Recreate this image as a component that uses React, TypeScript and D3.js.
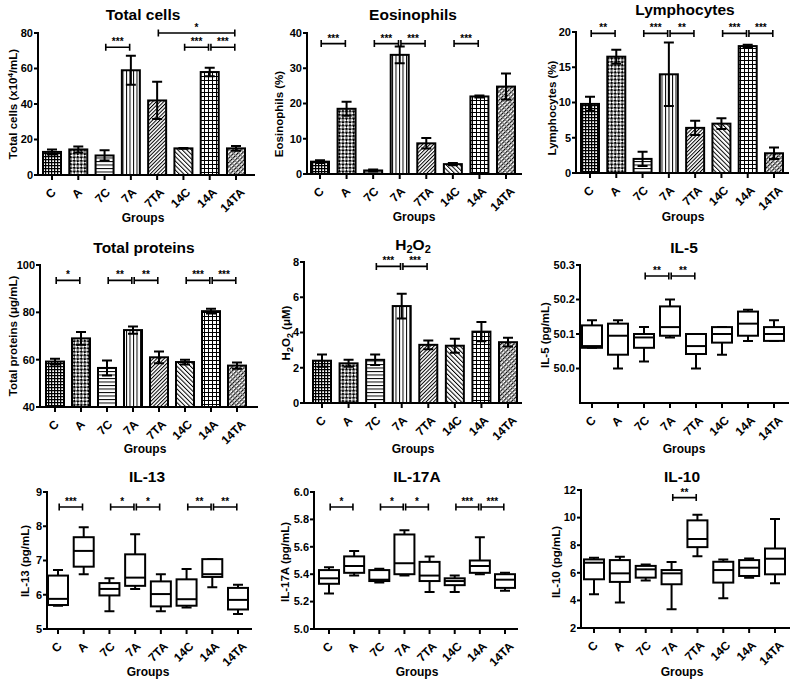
import React from "react";
import * as d3 from "d3";

const groups = ["C", "A", "7C", "7A", "7TA", "14C", "14A", "14TA"];

// Bar charts: mean and SEM
const totalCellsMean = [13, 14.4, 11, 59, 42, 15, 58, 15];
const totalCellsErr = [1.4, 1.7, 2.9, 8.2, 10.5, 0.2, 2.4, 1.3];
const totalCellsTicks = [0, 20, 40, 60, 80];

const eosMean = [3.5, 18.5, 1.0, 33.8, 8.7, 2.8, 22.0, 24.8];
const eosErr = [0.4, 2.0, 0.3, 2.4, 1.5, 0.3, 0.3, 3.7];
const eosTicks = [0, 10, 20, 30, 40];

const lymMean = [9.8, 16.5, 2.0, 14.0, 6.4, 7.0, 18.0, 2.8];
const lymErr = [1.0, 1.0, 1.0, 4.5, 1.0, 0.75, 0.2, 0.8];
const lymTicks = [0, 5, 10, 15, 20];

const protMean = [59.2, 69, 56.5, 72.5, 61, 59, 80.5, 57.5];
const protErr = [1.2, 2.7, 3.2, 1.5, 2.5, 1.0, 1.0, 1.3];
const protTicks = [40, 60, 80, 100];

const h2o2Mean = [2.4, 2.25, 2.45, 5.5, 3.3, 3.25, 4.05, 3.45];
const h2o2Err = [0.35, 0.2, 0.3, 0.7, 0.25, 0.4, 0.55, 0.25];
const h2o2Ticks = [0, 2, 4, 6, 8];

// Box plots: [min, q1, median, q3, max]
const il5Stats = [
  [50.06, 50.06, 50.065, 50.125, 50.14],
  [50.0, 50.04, 50.095, 50.13, 50.14],
  [50.02, 50.06, 50.09, 50.1, 50.12],
  [50.09, 50.095, 50.12, 50.18, 50.2],
  [50.0, 50.042, 50.065, 50.1, 50.1],
  [50.04, 50.075, 50.1, 50.12, 50.12],
  [50.08, 50.095, 50.13, 50.165, 50.17],
  [50.08, 50.08, 50.1, 50.12, 50.14],
];
const il5Ticks = [50.0, 50.1, 50.2, 50.3];

const il13Stats = [
  [5.68, 5.7, 5.88, 6.56, 6.72],
  [6.6, 6.82, 7.28, 7.68, 7.97],
  [5.52, 5.98, 6.17, 6.34, 6.48],
  [6.17, 6.26, 6.5, 7.18, 7.77],
  [5.52, 5.66, 6.02, 6.39, 6.6],
  [5.63, 5.68, 5.87, 6.45, 6.75],
  [6.22, 6.52, 6.6, 7.04, 7.04],
  [5.44, 5.57, 5.85, 6.2, 6.29],
];
const il13Ticks = [5, 6, 7, 8, 9];

const il17Stats = [
  [5.26, 5.33, 5.37, 5.43, 5.45],
  [5.39, 5.41, 5.46, 5.53, 5.57],
  [5.34, 5.35, 5.36, 5.43, 5.44],
  [5.39, 5.4, 5.48, 5.69, 5.72],
  [5.27, 5.35, 5.39, 5.49, 5.53],
  [5.27, 5.32, 5.35, 5.37, 5.39],
  [5.4, 5.41, 5.46, 5.5, 5.67],
  [5.28, 5.3, 5.36, 5.4, 5.41],
];
const il17Ticks = [5.0, 5.2, 5.4, 5.6, 5.8, 6.0];

const il10Stats = [
  [4.45, 5.53, 6.73, 6.97, 7.09],
  [3.85, 5.34, 5.96, 6.92, 7.16],
  [5.45, 5.65, 6.25, 6.5, 6.6],
  [3.35, 5.17, 5.96, 6.2, 6.78],
  [7.2, 7.86, 8.45, 9.8, 10.2],
  [4.15, 5.29, 6.2, 6.8, 6.97],
  [5.65, 5.77, 6.37, 6.92, 7.04],
  [5.25, 5.89, 7.02, 7.76, 9.9],
];
const il10Ticks = [2, 4, 6, 8, 10, 12];

// Significance brackets: [fromIndex, toIndex, label, yValue]
type Sig = [number, number, string, number];
const totalCellsSig: Sig[] = [[2, 3, "***", 72], [5, 6, "***", 72], [6, 7, "***", 72], [4, 7, "*", 80]];
const eosSig: Sig[] = [[0, 1, "***", 37], [2, 3, "***", 37], [3, 4, "***", 37], [5, 6, "***", 37]];
const lymSig: Sig[] = [[0, 1, "**", 19.8], [2, 3, "***", 19.8], [3, 4, "**", 19.8], [5, 6, "***", 19.8], [6, 7, "***", 19.8]];
const protSig: Sig[] = [[0, 1, "*", 93.5], [2, 3, "**", 93.5], [3, 4, "**", 93.5], [5, 6, "***", 93.5], [6, 7, "***", 93.5]];
const h2o2Sig: Sig[] = [[2, 3, "***", 7.75], [3, 4, "***", 7.75]];
const il5Sig: Sig[] = [[2, 3, "**", 50.268], [3, 4, "**", 50.268]];
const il13Sig: Sig[] = [[0, 1, "***", 8.56], [2, 3, "*", 8.56], [3, 4, "*", 8.56], [5, 6, "**", 8.56], [6, 7, "**", 8.56]];
const il17Sig: Sig[] = [[0, 1, "*", 5.89], [2, 3, "*", 5.89], [3, 4, "*", 5.89], [5, 6, "***", 5.89], [6, 7, "***", 5.89]];
const il10Sig: Sig[] = [[3, 4, "**", 11.45]];

const FONT = "'Liberation Sans', Arial, Helvetica, sans-serif";
const patternIds = ["pC", "pA", "p7C", "p7A", "p7TA", "p14C", "p14A", "p14TA"];

interface Layout {
  axisX: number; xEnd: number; yTop: number; yBot: number;
  cFirst: number; cLast: number; domain: [number, number];
  titleX: number; titleY: number; ylabX: number; ylabY: number;
  groupsX: number; groupsY: number;
}

function Defs() {
  return (
    <defs>
      <pattern id="pC" width={3} height={3} patternUnits="userSpaceOnUse">
        <rect width={3} height={3} fill="#fff" />
        <path d="M0,0.6H3M0.6,0V3" stroke="#000" strokeWidth={1.3} />
      </pattern>
      <pattern id="pA" width={5} height={5} patternUnits="userSpaceOnUse" patternTransform="rotate(45)">
        <rect width={5} height={5} fill="#fff" />
        <rect width={2.5} height={2.5} fill="#000" />
        <rect x={2.5} y={2.5} width={2.5} height={2.5} fill="#000" />
      </pattern>
      <pattern id="p7C" width={4} height={3.5} patternUnits="userSpaceOnUse">
        <rect width={4} height={3.5} fill="#fff" />
        <path d="M0,0.5H4" stroke="#000" strokeWidth={1} />
      </pattern>
      <pattern id="p7A" width={3.5} height={4} patternUnits="userSpaceOnUse">
        <rect width={3.5} height={4} fill="#fff" />
        <path d="M0.5,0V4" stroke="#000" strokeWidth={1} />
      </pattern>
      <pattern id="p7TA" width={2.6} height={4} patternUnits="userSpaceOnUse" patternTransform="rotate(45)">
        <rect width={2.6} height={4} fill="#fff" />
        <path d="M0.5,0V4" stroke="#000" strokeWidth={1} />
      </pattern>
      <pattern id="p14C" width={3.2} height={4} patternUnits="userSpaceOnUse" patternTransform="rotate(-45)">
        <rect width={3.2} height={4} fill="#fff" />
        <path d="M0.5,0V4" stroke="#000" strokeWidth={1} />
      </pattern>
      <pattern id="p14A" width={4} height={4} patternUnits="userSpaceOnUse">
        <rect width={4} height={4} fill="#fff" />
        <path d="M0,0.5H4M0.5,0V4" stroke="#000" strokeWidth={1} />
      </pattern>
      <pattern id="p14TA" width={3} height={4} patternUnits="userSpaceOnUse" patternTransform="rotate(45)">
        <rect width={3} height={4} fill="#fff" />
        <path d="M0.6,0V2.8" stroke="#000" strokeWidth={1.2} />
        <path d="M0,3.4H3" stroke="#000" strokeWidth={0.6} />
      </pattern>
    </defs>
  );
}

function Frame({ L, title, ylabel, ticks, fmt, children }: any) {
  const y = d3.scaleLinear().domain(L.domain).range([L.yBot, L.yTop]);
  const x = d3.scalePoint<string>().domain(groups).range([L.cFirst, L.cLast]);
  return (
    <g>
      {children(x, y)}
      {/* y axis */}
      <line x1={L.axisX} x2={L.axisX} y1={L.yTop - 1} y2={L.yBot + 1} stroke="#000" strokeWidth={2} />
      {ticks.map((t: number) => (
        <g key={t}>
          <line x1={L.axisX - 4} x2={L.axisX} y1={y(t)} y2={y(t)} stroke="#000" strokeWidth={2} />
          <text x={L.axisX - 5} y={y(t)} dy="0.35em" textAnchor="end" fontSize={11} fontWeight="bold">
            {fmt(t)}
          </text>
        </g>
      ))}
      {/* x axis */}
      <line x1={L.axisX - 1} x2={L.xEnd} y1={L.yBot} y2={L.yBot} stroke="#000" strokeWidth={2} />
      {groups.map((g) => {
        const cx = x(g) as number;
        const px = cx + 3 + 1.6 * g.length;
        const py = L.yBot + 18;
        return (
          <g key={g}>
            <line x1={cx} x2={cx} y1={L.yBot} y2={L.yBot + 5} stroke="#000" strokeWidth={2} />
            <text transform={`translate(${px},${py}) rotate(-45)`} textAnchor="end" fontSize={12} fontWeight="bold">
              {g}
            </text>
          </g>
        );
      })}
      <text x={L.titleX} y={L.titleY} textAnchor="middle" fontSize={15.5} fontWeight="bold">
        {title}
      </text>
      <text transform={`translate(${L.ylabX},${L.ylabY}) rotate(-90)`} textAnchor="middle" fontSize={11.5} fontWeight="bold">
        {ylabel}
      </text>
      <text x={L.groupsX} y={L.groupsY} textAnchor="middle" fontSize={12} fontWeight="bold">
        Groups
      </text>
    </g>
  );
}

function Brackets({ sig, x, y }: any) {
  return (
    <g>
      {sig.map((s: Sig, k: number) => {
        const x1 = (x(groups[s[0]]) as number) + 1.2;
        const x2 = (x(groups[s[1]]) as number) - 1.2;
        const yy = y(s[3]);
        return (
          <g key={k}>
            <path d={`M${x1},${yy - 3.5}V${yy + 3.5}M${x1},${yy}H${x2}M${x2},${yy - 3.5}V${yy + 3.5}`} stroke="#000" strokeWidth={1.6} fill="none" />
            <text x={(x1 + x2) / 2} y={yy - 2} textAnchor="middle" fontSize={10} fontWeight="bold">
              {s[2]}
            </text>
          </g>
        );
      })}
    </g>
  );
}

function BarPanel({ L, mean, err, sig, ticks, title, ylabel, fmt }: any) {
  const bw = 18;
  return (
    <Frame L={L} title={title} ylabel={ylabel} ticks={ticks} fmt={fmt || ((t: number) => String(t))}>
      {(x: any, y: any) => (
        <g>
          {groups.map((g, i) => {
            const cx = x(g) as number;
            const top = y(mean[i]);
            const hi = y(mean[i] + err[i]);
            const lo = y(mean[i] - err[i]);
            return (
              <g key={g}>
                <rect x={cx - bw / 2} y={top} width={bw} height={L.yBot - top} fill={`url(#${patternIds[i]})`} stroke="#000" strokeWidth={2} />
                <path d={`M${cx},${hi}V${lo}M${cx - 5},${hi}H${cx + 5}M${cx - 5},${lo}H${cx + 5}`} stroke="#000" strokeWidth={2} fill="none" />
              </g>
            );
          })}
          <Brackets sig={sig} x={x} y={y} />
        </g>
      )}
    </Frame>
  );
}

function BoxPanel({ L, stats, sig, ticks, title, ylabel, fmt }: any) {
  const bw = 20;
  return (
    <Frame L={L} title={title} ylabel={ylabel} ticks={ticks} fmt={fmt}>
      {(x: any, y: any) => (
        <g>
          {groups.map((g, i) => {
            const cx = x(g) as number;
            const [mn, q1, md, q3, mx] = stats[i];
            return (
              <g key={g} stroke="#000" strokeWidth={2} fill="none">
                <path d={`M${cx},${y(mx)}V${y(q3)}M${cx},${y(q1)}V${y(mn)}M${cx - 5},${y(mx)}H${cx + 5}M${cx - 5},${y(mn)}H${cx + 5}`} />
                <rect x={cx - bw / 2} y={y(q3)} width={bw} height={y(q1) - y(q3)} fill="#fff" />
                <line x1={cx - bw / 2} x2={cx + bw / 2} y1={y(md)} y2={y(md)} />
              </g>
            );
          })}
          <Brackets sig={sig} x={x} y={y} />
        </g>
      )}
    </Frame>
  );
}

const int = (t: number) => String(t);
const one = d3.format(".1f");

const L1: Layout = { axisX: 38, xEnd: 255, yTop: 33, yBot: 175, cFirst: 52, cLast: 236, domain: [0, 80], titleX: 143, titleY: 20, ylabX: 17, ylabY: 104, groupsX: 143, groupsY: 222 };
const L2: Layout = { axisX: 307, xEnd: 522, yTop: 33, yBot: 174, cFirst: 320, cLast: 506, domain: [0, 40], titleX: 413, titleY: 20, ylabX: 283, ylabY: 114, groupsX: 414, groupsY: 221 };
const L3: Layout = { axisX: 576, xEnd: 789, yTop: 32, yBot: 173, cFirst: 590, cLast: 774, domain: [0, 20], titleX: 685, titleY: 15, ylabX: 556, ylabY: 108, groupsX: 683, groupsY: 221 };
const L4: Layout = { axisX: 40, xEnd: 258, yTop: 265, yBot: 407, cFirst: 55, cLast: 237, domain: [40, 100], titleX: 144, titleY: 253, ylabX: 17, ylabY: 336, groupsX: 145, groupsY: 453 };
const L5: Layout = { axisX: 304, xEnd: 522, yTop: 262, yBot: 403, cFirst: 322, cLast: 508, domain: [0, 8], titleX: 413, titleY: 250, ylabX: 290, ylabY: 333, groupsX: 413, groupsY: 453 };
const L6: Layout = { axisX: 580, xEnd: 789, yTop: 265, yBot: 403, cFirst: 592, cLast: 774, domain: [49.9, 50.3], titleX: 684, titleY: 253, ylabX: 549, ylabY: 335, groupsX: 684, groupsY: 453 };
const L7: Layout = { axisX: 47, xEnd: 252, yTop: 492, yBot: 629, cFirst: 58, cLast: 238, domain: [5, 9], titleX: 147, titleY: 482, ylabX: 29, ylabY: 561, groupsX: 148, groupsY: 676 };
const L8: Layout = { axisX: 314, xEnd: 518, yTop: 492, yBot: 629, cFirst: 329, cLast: 505, domain: [5, 6], titleX: 417, titleY: 482, ylabX: 289, ylabY: 562, groupsX: 417, groupsY: 676 };
const L9: Layout = { axisX: 581, xEnd: 790, yTop: 490, yBot: 628, cFirst: 594, cLast: 775, domain: [2, 12], titleX: 682, titleY: 482, ylabX: 560, ylabY: 562, groupsX: 682, groupsY: 676 };

export default function App() {
  return (
    <svg width={792} height={681} style={{ position: "absolute", left: 0, top: 0, background: "#fff" }} fontFamily={FONT}>
      <Defs />
      <rect width={792} height={681} fill="#fff" />
      <BarPanel L={L1} mean={totalCellsMean} err={totalCellsErr} sig={totalCellsSig} ticks={totalCellsTicks} fmt={int}
        title="Total cells"
        ylabel={<>Total cells (x10<tspan dy={-4} fontSize={8}>4</tspan><tspan dy={4}>/mL)</tspan></>} />
      <BarPanel L={L2} mean={eosMean} err={eosErr} sig={eosSig} ticks={eosTicks} fmt={int}
        title="Eosinophils" ylabel="Eosinophils (%)" />
      <BarPanel L={L3} mean={lymMean} err={lymErr} sig={lymSig} ticks={lymTicks} fmt={int}
        title="Lymphocytes" ylabel="Lymphocytes (%)" />
      <BarPanel L={L4} mean={protMean} err={protErr} sig={protSig} ticks={protTicks} fmt={int}
        title="Total proteins" ylabel="Total proteins (μg/mL)" />
      <BarPanel L={L5} mean={h2o2Mean} err={h2o2Err} sig={h2o2Sig} ticks={h2o2Ticks} fmt={int}
        title={<>H<tspan dy={3} fontSize={11}>2</tspan><tspan dy={-3}>O</tspan><tspan dy={3} fontSize={11}>2</tspan></>}
        ylabel={<>H<tspan dy={3} fontSize={9}>2</tspan><tspan dy={-3}>O</tspan><tspan dy={3} fontSize={9}>2</tspan><tspan dy={-3}> (μM)</tspan></>} />
      <BoxPanel L={L6} stats={il5Stats} sig={il5Sig} ticks={il5Ticks} fmt={one} title="IL-5" ylabel="IL-5 (pg/mL)" />
      <BoxPanel L={L7} stats={il13Stats} sig={il13Sig} ticks={il13Ticks} fmt={int} title="IL-13" ylabel="IL-13 (pg/mL)" />
      <BoxPanel L={L8} stats={il17Stats} sig={il17Sig} ticks={il17Ticks} fmt={one} title="IL-17A" ylabel="IL-17A (pg/mL)" />
      <BoxPanel L={L9} stats={il10Stats} sig={il10Sig} ticks={il10Ticks} fmt={int} title="IL-10" ylabel="IL-10 (pg/mL)" />
    </svg>
  );
}
